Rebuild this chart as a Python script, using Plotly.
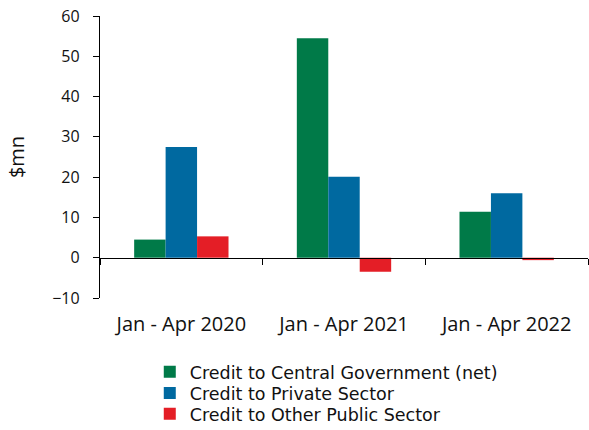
import plotly.graph_objects as go

categories = ["Jan - Apr 2020", "Jan - Apr 2021", "Jan - Apr 2022"]
central_gov = [4.5, 54.5, 11.4]
private_sector = [27.5, 20.1, 16.0]
other_public = [5.3, -3.5, -0.6]
series_names = ["Credit to Central Government (net)", "Credit to Private Sector", "Credit to Other Public Sector"]
colors = ["#007A48", "#0069A0", "#E41E26"]

legend_ids = ["legend", "legend2", "legend3"]
fig = go.Figure()
for name, vals, c, lg in zip(series_names, [central_gov, private_sector, other_public], colors, legend_ids):
    fig.add_trace(go.Bar(x=categories, y=vals, name=name, legend=lg,
                         marker=dict(color=c, line=dict(width=0))))

font = "Open Sans, Noto Sans, sans-serif"
leg_common = dict(x=0.102, xanchor="left", yanchor="middle",
                  font=dict(family="DejaVu Sans, sans-serif", size=17.5, color="#111"),
                  bgcolor="rgba(0,0,0,0)", borderwidth=0)
fig.update_layout(
    width=589, height=430,
    margin=dict(l=100, r=1, t=16, b=132, autoexpand=False),
    paper_bgcolor="white", plot_bgcolor="white",
    barmode="group", bargap=0.42, bargroupgap=0,
    font=dict(family=font, size=15, color="#111"),
    showlegend=True,
    legend=dict(y=-0.262, **leg_common),
    legend2=dict(y=-0.337, **leg_common),
    legend3=dict(y=-0.411, **leg_common),
    xaxis=dict(anchor="free", position=1/7, showline=True, linecolor="black", linewidth=1.3,
               ticks="outside", tickson="boundaries", ticklen=6, tickcolor="black",
               ticklabelstandoff=48, showgrid=False, zeroline=False, automargin=False,
               tickfont=dict(size=20)),
    yaxis=dict(range=[-10, 60], dtick=10, showline=True, linecolor="black", linewidth=1.3,
               ticks="outside", ticklen=6, tickcolor="black", showgrid=False, zeroline=False,
               ticklabelstandoff=10, automargin=False, tickfont=dict(size=16),
               title=dict(text="$mn", standoff=22, font=dict(size=20))),
)
fig.write_html("out.html", config={"displayModeBar": False},
               post_script="document.body.style.margin='0px';")
